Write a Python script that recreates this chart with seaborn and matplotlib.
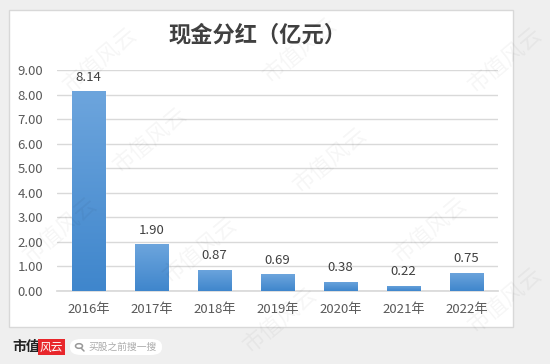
import matplotlib
matplotlib.use("Agg")
import matplotlib.pyplot as plt
import seaborn as sns
import numpy as np
import pandas as pd
from matplotlib.patches import FancyBboxPatch, Circle
from matplotlib.lines import Line2D
from matplotlib.colors import LinearSegmentedColormap

years = ["2016年", "2017年", "2018年", "2019年", "2020年", "2021年", "2022年"]
dividends = [8.14, 1.90, 0.87, 0.69, 0.38, 0.22, 0.75]
yticks = [0, 1, 2, 3, 4, 5, 6, 7, 8, 9]
title = "现金分红（亿元）"

sns.set_theme(style="white")
plt.rcParams['font.family'] = ['Noto Sans CJK SC', 'DejaVu Sans']

df = pd.DataFrame({"year": years, "value": dividends})

fig = plt.figure(figsize=(5.5, 3.64), dpi=100)
fig.patch.set_facecolor("#efefef")

# white panel
panel = FancyBboxPatch((9/550, 1-327/364), (513-9)/550, (327-10)/364,
                       boxstyle="square,pad=0", transform=fig.transFigure,
                       facecolor="white", edgecolor="#d8d8d8", linewidth=1, zorder=-5)
fig.patches.append(panel)

ax = fig.add_axes([57/550, 1-291/364, (498-57)/550, (291-70)/364])
ax.set_zorder(2)
ax.set_facecolor("white")
sns.barplot(data=df, x="year", y="value", color="#4a8fd6", width=0.53, ax=ax,
            saturation=1, zorder=3)

ax.set_ylim(0, 9)
ax.set_yticks(yticks)
ax.set_yticklabels([f"{v:.2f}" for v in yticks])
ax.yaxis.grid(True, color="#d9d9d9", linewidth=1, zorder=0)
ax.set_axisbelow(True)
for s in ["top", "right", "left"]:
    ax.spines[s].set_visible(False)
ax.spines["bottom"].set_color("#d9d9d9")
ax.set_xlabel("")
ax.set_ylabel("")
ax.tick_params(axis="both", length=0, colors="#595959", labelsize=9.5)
ax.tick_params(axis="x", pad=9)
ax.tick_params(axis="y", pad=10)

# gradient fill on bars
grad = np.linspace(0, 1, 256).reshape(-1, 1)
cmap = LinearSegmentedColormap.from_list("g", ["#3f86cc", "#6da5dd"])
for p in ax.patches:
    x0, y0 = p.get_x(), p.get_y()
    w, h = p.get_width(), p.get_height()
    im = ax.imshow(grad, extent=[x0, x0 + w, y0, y0 + h], origin="lower",
                   cmap=cmap, aspect="auto", zorder=4)
    im.set_clip_path(p)
    ax.text(x0 + w / 2, h + 0.3, f"{h:.2f}", ha="center", va="bottom",
            fontsize=9.5, color="#404040", zorder=5)
ax.set_xlim(-0.5, len(years) - 0.5)

fig.text(257/550, 1-35/364, title, ha="center", va="center", fontsize=16,
         fontweight="bold", color="#404040", zorder=3)

# watermarks
for (wx, wy) in [(100, 60), (300, 50), (505, 60), (150, 140), (330, 160), (60, 230),
                 (200, 250), (430, 230), (280, 320), (505, 300)]:
    fig.text(wx/550, 1-wy/364, "市值风云", rotation=40, fontsize=16,
             color="#000000", alpha=0.04, ha="center", va="center", zorder=10)

# footer
fig.text(12/550, 1-347/364, "市值", fontsize=10, fontweight="bold", color="#222222",
         va="center", ha="left", zorder=3)
fig.text(40/550, 1-347/364, "风云", fontsize=8.5, color="white", va="center", ha="left",
         style="italic", zorder=3,
         bbox=dict(boxstyle="square,pad=0.15", fc="#e8262b", ec="none"))
pill = FancyBboxPatch((70/550, 1-355/364), 92/550, 16/364,
                      boxstyle="round,pad=0,rounding_size=0.02", transform=fig.transFigure,
                      facecolor="white", edgecolor="none", zorder=1)
fig.patches.append(pill)
# magnifier icon drawn as shape
fig.patches.append(Circle((79/550, 1-346/364), 3.5/550, transform=fig.transFigure,
                          fill=False, edgecolor="#999999", linewidth=1.1, zorder=2))
fig.lines.append(Line2D([81.5/550, 84/550], [1-348.5/364, 1-351/364],
                        transform=fig.transFigure, color="#999999", linewidth=1.1, zorder=2))
fig.text(88/550, 1-347/364, "买股之前搜一搜", fontsize=7, color="#aaaaaa", va="center", zorder=3)

fig.savefig("out.png", dpi=100)
